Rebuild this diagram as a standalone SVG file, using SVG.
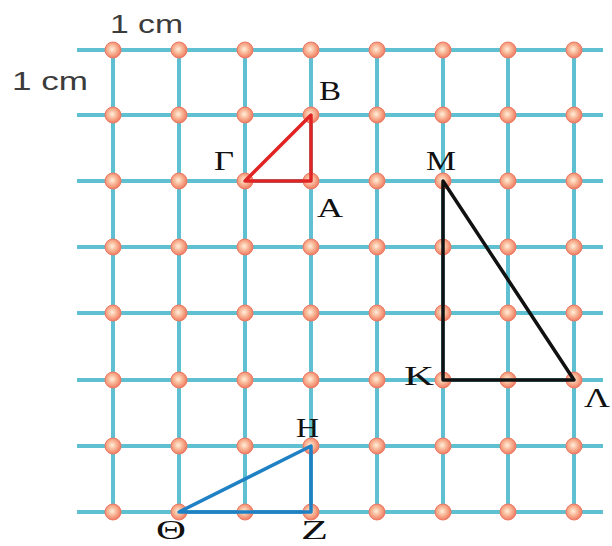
<svg xmlns="http://www.w3.org/2000/svg" width="612" height="546" viewBox="0 0 612 546">
<style>
.g{stroke:#5fc0d2;stroke-width:4;fill:none}
.cm{font-family:"Liberation Sans",Arial,sans-serif;font-size:26px;fill:#3c3c3c}
.lb{font-family:"Liberation Serif","Times New Roman",serif;font-size:28px;fill:#111}
.tri{fill:none;stroke-width:3.5;stroke-linejoin:round}
</style>
<defs>
<radialGradient id="dg" cx="0.45" cy="0.45" r="0.55">
<stop offset="0" stop-color="#fff0dc"/>
<stop offset="0.5" stop-color="#f9b595"/>
<stop offset="1" stop-color="#ef7b62"/>
</radialGradient>
<circle id="d" r="8" fill="url(#dg)" stroke="#ee7a64" stroke-width="1"/>
</defs>
<rect width="612" height="546" fill="#fff"/>
<g id="grid">
<g class="g">
<line x1="77" y1="50" x2="603" y2="50"/>
<line x1="77" y1="115" x2="603" y2="115"/>
<line x1="77" y1="181" x2="603" y2="181"/>
<line x1="77" y1="247" x2="603" y2="247"/>
<line x1="77" y1="313" x2="603" y2="313"/>
<line x1="77" y1="380" x2="603" y2="380"/>
<line x1="77" y1="446" x2="603" y2="446"/>
<line x1="77" y1="512" x2="603" y2="512"/>
<line x1="113" y1="50" x2="113" y2="512"/>
<line x1="179" y1="50" x2="179" y2="512"/>
<line x1="245" y1="50" x2="245" y2="512"/>
<line x1="311" y1="50" x2="311" y2="512"/>
<line x1="377" y1="50" x2="377" y2="512"/>
<line x1="443" y1="50" x2="443" y2="512"/>
<line x1="508" y1="50" x2="508" y2="512"/>
<line x1="574" y1="50" x2="574" y2="512"/>
</g>
<g id="dots">
<use href="#d" x="113" y="50"/><use href="#d" x="179" y="50"/><use href="#d" x="245" y="50"/><use href="#d" x="311" y="50"/><use href="#d" x="377" y="50"/><use href="#d" x="443" y="50"/><use href="#d" x="508" y="50"/><use href="#d" x="574" y="50"/>
<use href="#d" x="113" y="115"/><use href="#d" x="179" y="115"/><use href="#d" x="245" y="115"/><use href="#d" x="311" y="115"/><use href="#d" x="377" y="115"/><use href="#d" x="443" y="115"/><use href="#d" x="508" y="115"/><use href="#d" x="574" y="115"/>
<use href="#d" x="113" y="181"/><use href="#d" x="179" y="181"/><use href="#d" x="245" y="181"/><use href="#d" x="311" y="181"/><use href="#d" x="377" y="181"/><use href="#d" x="443" y="181"/><use href="#d" x="508" y="181"/><use href="#d" x="574" y="181"/>
<use href="#d" x="113" y="247"/><use href="#d" x="179" y="247"/><use href="#d" x="245" y="247"/><use href="#d" x="311" y="247"/><use href="#d" x="377" y="247"/><use href="#d" x="443" y="247"/><use href="#d" x="508" y="247"/><use href="#d" x="574" y="247"/>
<use href="#d" x="113" y="313"/><use href="#d" x="179" y="313"/><use href="#d" x="245" y="313"/><use href="#d" x="311" y="313"/><use href="#d" x="377" y="313"/><use href="#d" x="443" y="313"/><use href="#d" x="508" y="313"/><use href="#d" x="574" y="313"/>
<use href="#d" x="113" y="380"/><use href="#d" x="179" y="380"/><use href="#d" x="245" y="380"/><use href="#d" x="311" y="380"/><use href="#d" x="377" y="380"/><use href="#d" x="443" y="380"/><use href="#d" x="508" y="380"/><use href="#d" x="574" y="380"/>
<use href="#d" x="113" y="446"/><use href="#d" x="179" y="446"/><use href="#d" x="245" y="446"/><use href="#d" x="311" y="446"/><use href="#d" x="377" y="446"/><use href="#d" x="443" y="446"/><use href="#d" x="508" y="446"/><use href="#d" x="574" y="446"/>
<use href="#d" x="113" y="512"/><use href="#d" x="179" y="512"/><use href="#d" x="245" y="512"/><use href="#d" x="311" y="512"/><use href="#d" x="377" y="512"/><use href="#d" x="443" y="512"/><use href="#d" x="508" y="512"/><use href="#d" x="574" y="512"/>
</g>
</g>
<text class="cm" x="110" y="33" textLength="73" lengthAdjust="spacingAndGlyphs">1 cm</text>
<text class="cm" x="12" y="90" textLength="76" lengthAdjust="spacingAndGlyphs">1 cm</text>
<g id="triangle-ABG">
<polygon class="tri" stroke="#e02424" points="311,115 311,181 245,181"/>
<text class="lb" x="319" y="100" textLength="22" lengthAdjust="spacingAndGlyphs">B</text>
<text class="lb" x="214" y="170" textLength="20" lengthAdjust="spacingAndGlyphs">Γ</text>
<text class="lb" x="317" y="217" textLength="26" lengthAdjust="spacingAndGlyphs">A</text>
</g>
<g id="triangle-KLM">
<polygon class="tri" stroke="#111" stroke-width="4" points="443,181 443,380 574,380"/>
<text class="lb" x="426" y="170" textLength="30" lengthAdjust="spacingAndGlyphs">M</text>
<text class="lb" x="404" y="385" textLength="30" lengthAdjust="spacingAndGlyphs">K</text>
<text class="lb" x="584" y="407" textLength="26" lengthAdjust="spacingAndGlyphs">Λ</text>
</g>
<g id="triangle-HZT">
<polygon class="tri" stroke="#1f80c4" points="311,446 311,512 179,512"/>
<text class="lb" x="296" y="437" textLength="23" lengthAdjust="spacingAndGlyphs">H</text>
<text class="lb" x="156" y="539" textLength="30" lengthAdjust="spacingAndGlyphs">Θ</text>
<text class="lb" x="301" y="539" textLength="27" lengthAdjust="spacingAndGlyphs">Z</text>
</g>
</svg>
